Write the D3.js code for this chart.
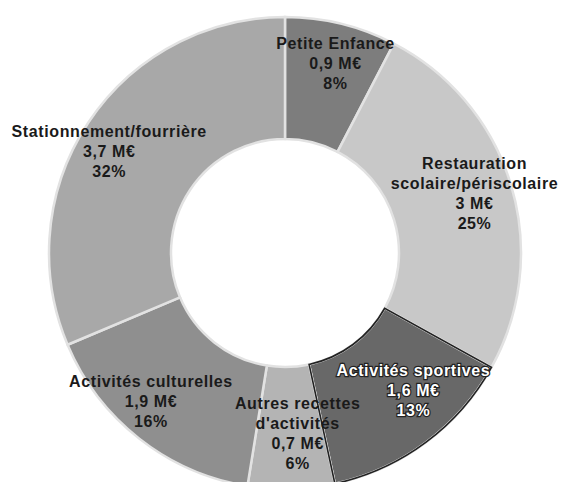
<!DOCTYPE html>
<html>
<head>
<meta charset="utf-8">
<script src="https://cdn.jsdelivr.net/npm/d3@7/dist/d3.min.js"></script>
<style>
  html, body { margin: 0; padding: 0; background: #fff; }
  svg { display: block; }
</style>
</head>
<body>
<svg id="chart" width="563" height="482"></svg>
<script>
// ---- data ----
const categories = ["Petite Enfance", "Restauration scolaire/périscolaire", "Activités sportives", "Autres recettes d'activités", "Activités culturelles", "Stationnement/fourrière"];
const labelLines = [
  ["Petite Enfance"],
  ["Restauration", "scolaire/périscolaire"],
  ["Activités sportives"],
  ["Autres recettes", "d'activités"],
  ["Activités culturelles"],
  ["Stationnement/fourrière"]
];
const valuesMEur = [0.9, 3, 1.6, 0.7, 1.9, 3.7];
const valueLabels = ["0,9 M€", "3 M€", "1,6 M€", "0,7 M€", "1,9 M€", "3,7 M€"];
const percentLabels = ["8%", "25%", "13%", "6%", "16%", "32%"];

// ---- styling ----
const W = 563, H = 482;
const cx = 285, cy = 253, R = 236, r = 114;
const fills = ["#7d7d7d", "#c8c8c8", "#686868", "#b4b4b4", "#8f8f8f", "#a8a8a8"];
const labelOffsets = [[9, -20], [22, -9], [24, -3], [8, 5], [-26, 10], [-30, -5]];

const svg = d3.select("#chart");
const g = svg.append("g").attr("transform", `translate(${cx},${cy})`);

const pie = d3.pie().sort(null).value(d => d)(valuesMEur);
const arc = d3.arc().innerRadius(r).outerRadius(R);
const labelArc = d3.arc().innerRadius((R + r) / 2).outerRadius((R + r) / 2);

g.selectAll("path.slice")
  .data(pie)
  .join("path")
  .attr("class", "slice")
  .attr("d", arc)
  .attr("fill", (d, i) => fills[i])
  .attr("stroke", "#e2e2e2")
  .attr("stroke-width", 2.5);

// dark outline of the sportives slice, above its neighbours
g.append("path").datum(pie[2]).attr("d", arc).attr("fill", "none").attr("stroke", "#222").attr("stroke-width", 1.6);

const lineH = 20;
pie.forEach((d, i) => {
  const c = labelArc.centroid(d);
  const lines = labelLines[i].concat([valueLabels[i], percentLabels[i]]);
  const x = c[0] + labelOffsets[i][0];
  const y = c[1] + labelOffsets[i][1] - (lines.length - 1) * lineH / 2;
  const t = g.append("text")
    .attr("text-anchor", "middle")
    .attr("font-family", "'Liberation Sans', Arial, sans-serif")
    .attr("font-weight", "bold")
    .attr("font-size", 16)
    .attr("letter-spacing", 0.6)
    .attr("dominant-baseline", "central");
  if (i === 2) {
    t.attr("fill", "#fff").attr("stroke", "#222").attr("stroke-width", 2.4).attr("paint-order", "stroke");
  } else {
    t.attr("fill", "#1a1a1a");
  }
  lines.forEach((s, k) => {
    t.append("tspan").attr("x", x).attr("y", y + k * lineH).text(s);
  });
});
</script>
</body>
</html>
